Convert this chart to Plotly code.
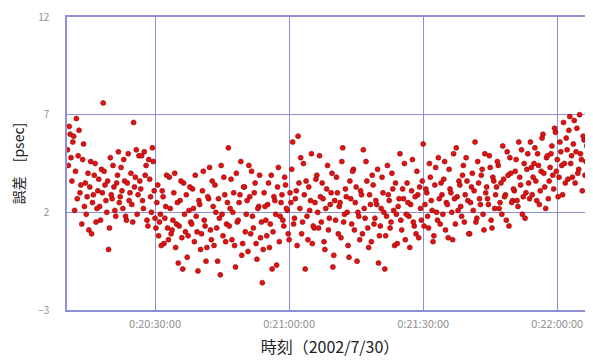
import plotly.graph_objects as go
import pandas as pd

# seconds after 0:20:00 of the first sample of each run, and sample step (s)
start_a_s = 10.4
start_b_s = 10.6
step_s = 0.4

values_a = [
    5.2, 6.4, 4.8, 5.6, 2.1, 6.8, 4.9, 3.0, 1.4, 5.5,
    3.5, 2.8, 1.1, 4.6, 2.5, 3.9, 1.5, 3.1, 2.3, 4.2,
    7.6, 3.4, 2.0, 0.1, 4.8, 2.7, 3.3, 1.8, 3.9, 2.5,
    4.3, 2.2, 3.6, 1.6, 5.0, 3.0, 2.4, 6.6, 3.8, 1.9,
    4.9, 3.2, 2.6, 5.1, 4.4, 1.3, 3.7, 2.0, 4.6, 1.7,
    2.5, 0.8, 1.9, 3.1, 0.4, 2.3, 1.2, 3.8, 0.9, 1.6,
    4.0, 1.4, -0.6, 2.6, 0.7, 3.5, 1.0, -0.3, 2.1, 1.5,
    3.2, 0.5, 1.8, -1.0, 2.4, 0.9, 4.1, 1.3, 0.2, 2.7,
    1.1, 3.6, 0.3, 2.0, -0.5, 1.7, 4.4, 0.8, 2.9, 1.4,
    5.3, 2.2, 0.6, 3.0, -0.8, 1.5, 2.5, 4.6, 0.4, 3.3,
    1.9, 0.0, 2.8, 4.1, 1.2, 3.5, -0.4, 2.3, 0.7, -1.6,
    3.0, 1.6, 2.4, 0.2, 3.9, 1.0, 2.6, -0.7, 4.3, 1.8,
    2.9, 1.3, 3.4, 2.1, 0.6, 2.5, 5.6, 1.7, 3.1, 5.9,
    2.2, 0.9, 4.5, -0.9, 1.8, 3.3, 2.6, 0.4, 1.2, 3.7,
    2.0, 4.9, 1.5, 2.7, 0.1, 3.2, 1.1, 2.4, 4.0, -0.2,
    1.6, 3.0, 2.3, 0.7, 5.3, 1.9, 2.8, 0.3, 3.6, 1.4,
    4.2, 2.5, -0.5, 1.8, 3.1, 0.9, 2.2, 4.6, 1.2, 2.9,
    0.5, 3.4, 1.7, 2.4, -0.6, 1.3, 3.8, 2.0, 0.8, 4.4,
    2.6, 1.5, 3.2, 0.3, 1.9, 2.3, 5.0, 1.1, 2.7, 0.6,
    3.5, 1.8, 2.4, 4.7, 1.3, 0.9, 2.9, 3.3, 1.6, 5.5,
    2.4, 3.0, 1.2, 3.8, 2.1, 0.8, 4.3, 1.6, 2.7, 3.5,
    1.9, 4.6, 2.5, 0.7, 3.2, 2.0, 5.0, 1.4, 2.8, 3.6,
    2.3, 3.9, 1.5, 4.8, 2.6, 0.9, 3.3, 2.1, 5.6, 1.7,
    3.5, 2.4, 4.2, 1.1, 3.0, 2.7, 4.9, 1.6, 3.8, 2.2,
    3.3, 4.4, 2.5, 1.9, 3.7, 2.9, 5.1, 1.3, 4.0, 2.6,
    3.1, 4.7, 2.3, 3.8, 5.2, 2.8, 1.7, 4.2, 3.5, 5.6,
    2.9, 4.5, 3.6, 5.0, 2.4, 4.1, 6.0, 3.3, 4.8, 2.7,
    4.3, 5.4, 3.2, 6.1, 4.7, 3.8, 5.1, 2.9, 4.5, 5.8,
    3.7, 6.9, 4.9, 5.5, 3.5, 6.3, 4.2, 5.0, 3.1, 5.7,
    4.6, 6.0, 5.2, 4.0,
]

values_b = [
    4.4, 6.0, 3.6, 5.9, 4.1, 2.7, 6.2, 3.4, 4.7, 2.3,
    1.9, 4.0, 3.3, 0.9, 2.9, 4.5, 2.2, 3.7, 1.6, 3.0,
    4.1, 2.6, 3.6, 1.2, 2.9, 4.4, 2.1, 3.5, 5.1, 2.8,
    3.1, 4.7, 1.8, 3.5, 2.6, 4.0, 1.5, 3.3, 5.2, 2.9,
    3.6, 4.9, 2.2, 3.9, 1.6, 4.7, 2.8, 5.3, 3.1, 1.2,
    3.4, 1.5, 0.3, 2.8, 1.7, 3.9, 0.6, 2.2, 1.1, 3.0,
    0.2, 2.5, 1.3, 3.6, -0.9, 1.9, 2.9, 0.8, 3.3, 1.4,
    2.2, 3.9, 1.0, 2.6, 0.1, 3.1, 1.6, -0.5, 2.8, 4.3,
    0.6, 2.3, 3.4, 1.2, 2.7, -1.2, 1.9, 3.8, 0.5, 2.5,
    1.3, 3.7, 2.0, 0.3, 4.0, 1.6, 2.9, -0.2, 3.3, 1.0,
    2.6, 4.4, 0.9, 1.8, 3.0, 0.4, 2.2, 3.9, 1.5, 0.1,
    2.3, 0.8, 3.5, 1.4, -0.9, 2.8, 1.9, 3.3, 0.5, 2.5,
    1.6, 3.8, 2.2, 0.9, 3.0, 4.2, 1.4, 2.7, 0.3, 3.5,
    4.8, 1.5, 2.9, 3.6, 0.6, 2.1, 5.0, 1.3, 2.5, 3.9,
    1.2, 2.8, 3.5, 0.5, 2.2, 4.4, 1.7, 3.0, -0.8, 2.6,
    3.8, 0.9, 2.5, 4.6, 1.5, 3.2, 2.0, -0.3, 2.7, 4.1,
    1.1, 3.3, 2.0, 0.6, 2.9, 5.2, 1.7, 3.6, 0.2, 2.4,
    3.9, 1.4, 2.6, 4.2, 0.8, 2.2, 3.0, -0.9, 1.8, 2.9,
    1.2, 4.0, 2.1, 3.5, 0.4, 2.7, 1.6, 3.2, 4.5, 1.9,
    2.5, 0.2, 3.1, 1.5, 2.8, 4.1, 0.7, 2.2, 3.6, 1.3,
    3.2, 1.8, 4.5, 2.6, 0.5, 3.4, 2.0, 4.8, 1.4, 2.9,
    3.7, 1.1, 2.4, 4.2, 3.0, 0.6, 2.7, 5.3, 2.1, 3.4,
    1.8, 4.4, 2.9, 3.6, 0.9, 2.5, 4.0, 3.1, 1.5, 4.6,
    2.7, 3.9, 1.9, 5.0, 3.3, 2.4, 4.3, 1.2, 3.6, 2.9,
    4.6, 2.2, 3.5, 5.4, 2.8, 1.6, 3.9, 4.8, 2.5, 3.2,
    4.1, 2.6, 5.6, 3.4, 1.9, 4.5, 3.0, 5.0, 2.7, 4.3,
    3.8, 5.3, 2.6, 4.4, 3.1, 5.8, 4.0, 2.2, 4.9, 3.6,
    5.0, 3.9, 6.3, 4.1, 2.8, 5.6, 4.4, 6.6, 3.5, 5.2,
    6.2, 4.5, 3.8, 6.7, 5.1, 4.0, 7.0, 4.7, 5.9, 3.9,
    5.4, 4.8, 6.4,
]

x_tick_vals = ["2002-07-30 00:20:30", "2002-07-30 00:21:00",
               "2002-07-30 00:21:30", "2002-07-30 00:22:00"]
x_tick_text = ["0:20:30:00", "0:21:00:00", "0:21:30:00", "0:22:00:00"]
y_tick_vals = [-3, 2, 7, 12]

base = pd.Timestamp("2002-07-30 00:20:00")
times_a = [base + pd.Timedelta(seconds=start_a_s + i * step_s) for i in range(len(values_a))]
times_b = [base + pd.Timedelta(seconds=start_b_s + i * step_s) for i in range(len(values_b))]

times = []
values = []
for t, v in zip(times_a, values_a):
    times.append(t); values.append(v)
for t, v in zip(times_b, values_b):
    times.append(t); values.append(v)

fig = go.Figure(go.Scatter(
    x=times, y=values, mode="markers",
    marker=dict(size=5, color="#e31212", line=dict(color="#8a0a0a", width=0.6)),
))

grid = "#8f8fd6"
fig.update_layout(
    width=585, height=354,
    margin=dict(l=59, r=0, t=9, b=52),
    paper_bgcolor="white", plot_bgcolor="white",
    showlegend=False,
    font=dict(family="Noto Sans CJK JP, Noto Sans, sans-serif", color="#888888", size=9),
    xaxis=dict(
        range=["2002-07-30 00:20:10.3", "2002-07-30 00:22:08"],
        tickvals=x_tick_vals, ticktext=x_tick_text,
        showgrid=True, gridcolor=grid, gridwidth=1,
        showline=True, linecolor=grid, linewidth=1.5, mirror=True,
        ticks="", ticklabelstandoff=3,
        tickfont=dict(size=11, color="#8f8f8f"),
        title=dict(text="時刻（2002/7/30）", standoff=12,
                   font=dict(size=16, color="#222222",
                             family="Noto Sans CJK JP, sans-serif")),
        zeroline=False,
    ),
    yaxis=dict(
        range=[-3, 12], tickvals=y_tick_vals,
        showgrid=True, gridcolor=grid, gridwidth=1,
        showline=True, linecolor=grid, linewidth=1.5,
        ticks="", ticklabelstandoff=14,
        tickfont=dict(size=10, color="#8f8f8f"),
        title=dict(text="誤差　[psec]", standoff=16,
                   font=dict(size=14, color="#222222",
                             family="Noto Sans CJK JP, sans-serif")),
        zeroline=False,
    ),
)

fig.write_html("out.html")
